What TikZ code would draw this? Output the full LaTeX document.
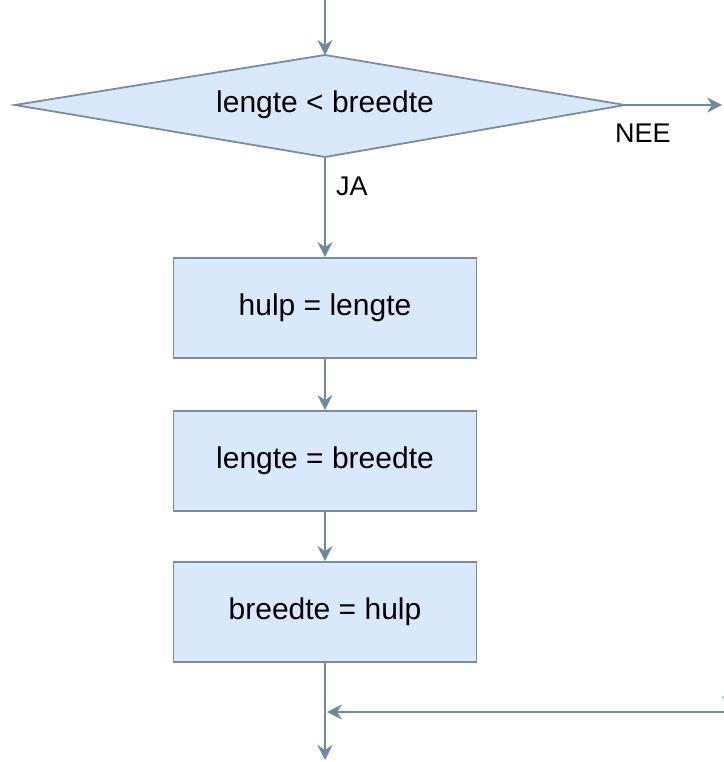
\documentclass[tikz,border=0pt]{standalone}
\usepackage{fontspec}
\setmainfont{Liberation Sans}
\usetikzlibrary{shapes.geometric,arrows.meta}
\definecolor{boxfill}{HTML}{DAE8FC}
\definecolor{boxline}{HTML}{7B8C9C}
\definecolor{arrowcol}{HTML}{6F8AA0}
\tikzset{
  px/.style={x=1pt,y=-1pt},
  procbox/.style={draw=boxline,fill=boxfill,line width=1.8pt,minimum width=303pt,minimum height=100pt,inner sep=0pt,font=\fontsize{30}{34}\selectfont},
  flow/.style={draw=arrowcol,line width=2pt,-{Stealth[length=15pt,width=15pt,inset=5pt]}},
  plainline/.style={draw=arrowcol,line width=2pt},
  lbl/.style={font=\fontsize{27}{32}\selectfont,inner sep=0pt}
}
\begin{document}
\begin{tikzpicture}[px]
\useasboundingbox (0,0) rectangle (723,762);
\fill[white] (0,0) rectangle (723,762);
% decision diamond
\coordinate (dL) at (15,105);
\coordinate (dR) at (625,105);
\coordinate (dT) at (325,55);
\coordinate (dB) at (325,157);
\filldraw[draw=boxline,fill=boxfill,line width=1.8pt] (dL) -- (dT) -- (dR) -- (dB) -- cycle;
\node[lbl,font=\fontsize{30}{34}\selectfont] (cond) at (325,105) {lengte < breedte};
% boxes
\node[procbox] (b1) at (325,308) {hulp = lengte};
\node[procbox] (b2) at (325,461) {lengte = breedte};
\node[procbox] (b3) at (325,612) {breedte = hulp};
% coordinates
\coordinate (top) at (325,0);
\coordinate (nee) at (722,105);
\coordinate (join) at (325,712);
\coordinate (rightin) at (725,712);
\coordinate (bottom) at (325,760);
\coordinate (rvtop) at (730,670);
\coordinate (rvend) at (730,711);
% connectors
\draw[flow] (top) -- (dT);
\draw[flow] (dB) -- (b1.north);
\draw[flow] (b1.south) -- (b2.north);
\draw[flow] (b2.south) -- (b3.north);
\draw[plainline] (b3.south) -- (join);
\draw[flow] (join) -- (bottom);
\draw[flow] (dR) -- (nee);
\draw[flow] (rightin) -- (327,712);
\draw[flow] (rvtop) -- (rvend);
% labels
\node[lbl,anchor=west] (ja) at (336,186) {JA};
\node[lbl,anchor=west] (neel) at (615,133) {NEE};
\end{tikzpicture}
\end{document}
